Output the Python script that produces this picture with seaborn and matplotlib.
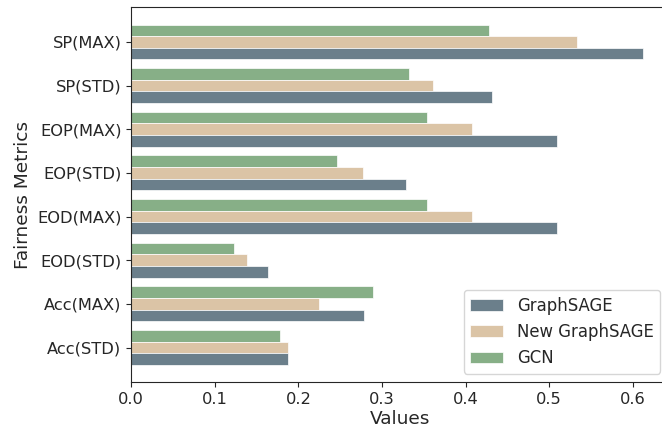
import matplotlib
matplotlib.use("Agg")
import matplotlib.pyplot as plt
import seaborn as sns
import pandas as pd

# Fairness / accuracy metrics per model
metrics = ["SP(MAX)", "SP(STD)", "EOP(MAX)", "EOP(STD)",
           "EOD(MAX)", "EOD(STD)", "Acc(MAX)", "Acc(STD)"]
graphsage = [0.612, 0.431, 0.509, 0.329, 0.509, 0.164, 0.278, 0.188]
new_graphsage = [0.533, 0.361, 0.408, 0.277, 0.408, 0.138, 0.225, 0.187]
gcn = [0.428, 0.332, 0.354, 0.246, 0.354, 0.123, 0.289, 0.178]

models = ["GraphSAGE", "New GraphSAGE", "GCN"]
colors = {"GraphSAGE": "#6b7f8b", "New GraphSAGE": "#dbc4a6", "GCN": "#87af87"}

df = pd.DataFrame({
    "Metric": metrics * 3,
    "Value": graphsage + new_graphsage + gcn,
    "Model": [m for m in models for _ in metrics],
})

sns.set_style("ticks")
fig = plt.figure(figsize=(6.62, 4.30), dpi=100)
ax = fig.add_axes([0.1982, 0.1116, 0.8115, 0.8710])

# GCN drawn on top of each group, GraphSAGE at the bottom
sns.barplot(data=df, y="Metric", x="Value", hue="Model", orient="h",
            order=metrics, hue_order=models[::-1], palette=colors,
            saturation=1, width=0.8, edgecolor="white", linewidth=0.5,
            ax=ax)

ax.set_ylim(7.79, -0.79)
ax.set_xlim(0, 0.6426)
ax.set_xticks([0.0, 0.1, 0.2, 0.3, 0.4, 0.5, 0.6])
ax.set_xticklabels(["0.0", "0.1", "0.2", "0.3", "0.4", "0.5", "0.6"])
ax.tick_params(axis="both", labelsize=11.7, length=3.5, width=0.8)
ax.set_xlabel("Values", fontsize=13.3, labelpad=2)
ax.set_ylabel("Fairness Metrics", fontsize=13.3, labelpad=4)

for side in ["top", "right", "left", "bottom"]:
    ax.spines[side].set_visible(True)
    ax.spines[side].set_linewidth(0.8)

handles, labels = ax.get_legend_handles_labels()
lookup = dict(zip(labels, handles))
ax.legend([lookup[m] for m in models], models, loc="lower right",
          fontsize=11.9, frameon=True)

fig.savefig("out.png", dpi=100)
